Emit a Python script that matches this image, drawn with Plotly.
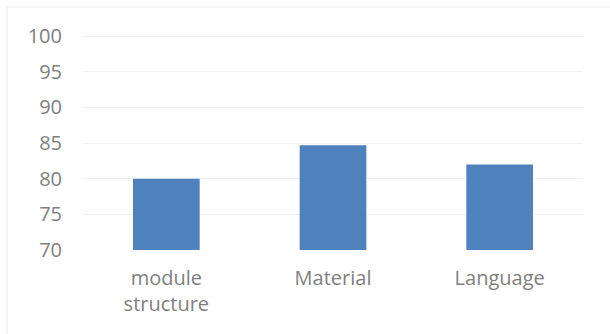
import plotly.graph_objects as go

categories = ["module<br>structure", "Material", "Language"]
values = [80.0, 84.7, 82.0]
y_ticks = [70, 75, 80, 85, 90, 95, 100]

W, H = 610, 334
L, R, T, B = 83, 27, 34, 84

fig = go.Figure(go.Bar(x=categories, y=values, marker=dict(color="#4f81bd", line=dict(width=0))))

font_fam = "Open Sans"
tick_col = "#808080"

fig.update_layout(
    width=W, height=H,
    margin=dict(l=L, r=R, t=T, b=B),
    paper_bgcolor="white", plot_bgcolor="white",
    bargap=0.6,
    showlegend=False,
    font=dict(family=font_fam, size=20, color=tick_col),
    xaxis=dict(showgrid=False, showline=False, ticks="", ticklabelstandoff=14,
               tickfont=dict(size=20, color=tick_col)),
    yaxis=dict(range=[70, 100.3], tickvals=y_ticks, showgrid=True, gridcolor="#f0f0f0", gridwidth=1,
               zeroline=False, showline=False, ticks="", ticklabelstandoff=20,
               tickfont=dict(size=20, color=tick_col)),
)

pw = W - L - R
ph = H - T - B
x0 = (7 - L) / pw
y1 = 1 + (T - 7) / ph
fig.add_shape(type="rect", xref="paper", yref="paper", x0=x0, x1=(W + 5 - L) / pw,
              y0=-(B + 5) / ph, y1=y1, line=dict(color="#ececec", width=1), layer="below")

fig.write_html("out.html")
